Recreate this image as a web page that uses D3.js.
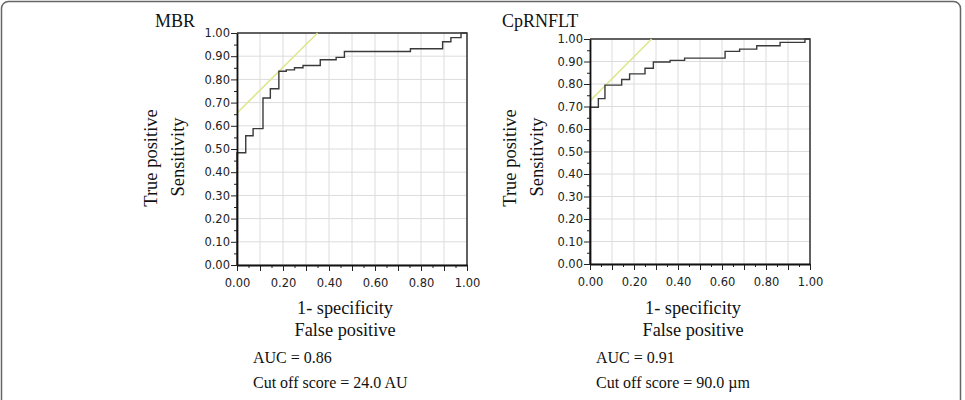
<!DOCTYPE html>
<html>
<head>
<meta charset="utf-8">
<script src="https://cdn.jsdelivr.net/npm/d3@7"></script>
<style>
  body { margin: 0; background: #fff; }
  svg { display: block; }
</style>
</head>
<body>
<svg id="chart" width="965" height="400"></svg>
<script>
// ROC step curves: [1-specificity, sensitivity]
const mbrRoc = [
  [0, 0], [0, 0.484], [0.038, 0.484], [0.038, 0.557], [0.07, 0.557], [0.07, 0.588],
  [0.113, 0.588], [0.113, 0.72], [0.145, 0.72], [0.145, 0.76], [0.182, 0.76],
  [0.182, 0.835], [0.214, 0.835], [0.214, 0.841], [0.25, 0.841], [0.25, 0.85],
  [0.287, 0.85], [0.287, 0.86], [0.362, 0.86], [0.362, 0.885], [0.431, 0.885],
  [0.431, 0.895], [0.467, 0.895], [0.467, 0.92], [0.754, 0.92], [0.754, 0.932],
  [0.894, 0.932], [0.894, 0.962], [0.93, 0.962], [0.93, 0.98], [0.974, 0.98],
  [0.974, 1.0], [1.0, 1.0]
];
const rnfltRoc = [
  [0, 0], [0, 0.697], [0.038, 0.697], [0.038, 0.735], [0.068, 0.735], [0.068, 0.795],
  [0.144, 0.795], [0.144, 0.82], [0.18, 0.82], [0.18, 0.845], [0.25, 0.845],
  [0.25, 0.87], [0.288, 0.87], [0.288, 0.898], [0.364, 0.898], [0.364, 0.905],
  [0.43, 0.905], [0.43, 0.915], [0.614, 0.915], [0.614, 0.945], [0.68, 0.945],
  [0.68, 0.955], [0.758, 0.955], [0.758, 0.97], [0.864, 0.97], [0.864, 0.985],
  [0.977, 0.985], [0.977, 1.0], [1.0, 1.0]
];
// tangent (cut-off) lines: [x, y] endpoints
const mbrTangent = [[0, 0.655], [0.35, 1.0]];
const rnfltTangent = [[0, 0.725], [0.28, 1.0]];

const titles = ["MBR", "CpRNFLT"];
const aucTexts = ["AUC = 0.86", "AUC = 0.91"];
const cutTexts = ["Cut off score = 24.0 AU", "Cut off score = 90.0 \u00b5m"];
const xTickValues = [0, 0.2, 0.4, 0.6, 0.8, 1.0];
const yTickValues = [0, 0.1, 0.2, 0.3, 0.4, 0.5, 0.6, 0.7, 0.8, 0.9, 1.0];

const svg = d3.select("#chart");

// outer rounded frame
svg.append("rect")
  .attr("x", 1.5).attr("y", 1.5)
  .attr("width", 959).attr("height", 420)
  .attr("rx", 7)
  .attr("fill", "none")
  .attr("stroke", "#666")
  .attr("stroke-width", 1.5);

const panels = [
  { roc: mbrRoc, tan: mbrTangent, x0: 237, x1: 467, y0: 265, y1: 33,
    titleX: 155, ylabX: 157, ylab2X: 184, textX: 253 },
  { roc: rnfltRoc, tan: rnfltTangent, x0: 590, x1: 810, y0: 264, y1: 39,
    titleX: 502, ylabX: 516, ylab2X: 543, textX: 596 }
];

const serif = "'Liberation Serif', 'Times New Roman', serif";

panels.forEach((p, i) => {
  const x = d3.scaleLinear().domain([0, 1]).range([p.x0, p.x1]);
  const y = d3.scaleLinear().domain([0, 1]).range([p.y0, p.y1]);
  const g = svg.append("g");

  // grid
  const grid = d3.range(0, 1.0001, 0.1);
  g.append("g").selectAll("line.v").data(grid).join("line")
    .attr("x1", d => x(d)).attr("x2", d => x(d))
    .attr("y1", y(0)).attr("y2", y(1))
    .attr("stroke", "#dcdcdc").attr("stroke-width", 1);
  g.append("g").selectAll("line.h").data(grid).join("line")
    .attr("x1", x(0)).attr("x2", x(1))
    .attr("y1", d => y(d)).attr("y2", d => y(d))
    .attr("stroke", "#dcdcdc").attr("stroke-width", 1);

  // top / right border
  g.append("path")
    .attr("d", `M${x(0)},${y(1)}H${x(1)}V${y(0)}`)
    .attr("fill", "none").attr("stroke", "#333").attr("stroke-width", 1.5);

  // tangent line
  g.append("line")
    .attr("x1", x(p.tan[0][0])).attr("y1", y(p.tan[0][1]))
    .attr("x2", x(p.tan[1][0])).attr("y2", y(p.tan[1][1]))
    .attr("stroke", "#dfe78c").attr("stroke-width", 1.5);

  // ROC curve
  g.append("path")
    .datum(p.roc)
    .attr("d", d3.line().x(d => x(d[0])).y(d => y(d[1])))
    .attr("fill", "none").attr("stroke", "#3a3a3a").attr("stroke-width", 1.4);

  // minor ticks
  g.append("g").attr("transform", `translate(0,${y(0)})`)
    .call(d3.axisBottom(x).tickValues(d3.range(0.05, 1, 0.1)).tickSize(3).tickFormat(""))
    .call(a => a.select(".domain").remove());
  g.append("g").attr("transform", `translate(${x(0)},0)`)
    .call(d3.axisLeft(y).tickValues(d3.range(0.05, 1, 0.1)).tickSize(3).tickFormat(""))
    .call(a => a.select(".domain").remove());
  g.append("g").attr("transform", `translate(0,${y(0)})`)
    .call(d3.axisBottom(x).tickValues(d3.range(0.1, 1, 0.2)).tickSize(6).tickFormat(""))
    .call(a => a.select(".domain").remove());

  // major axes
  const xAxis = g.append("g").attr("transform", `translate(0,${y(0)})`)
    .call(d3.axisBottom(x).tickValues(xTickValues).tickSize(6).tickSizeOuter(0)
      .tickFormat(d3.format(".2f")));
  const yAxis = g.append("g").attr("transform", `translate(${x(0)},0)`)
    .call(d3.axisLeft(y).tickValues(yTickValues).tickSize(6).tickSizeOuter(0)
      .tickFormat(d3.format(".2f")));
  [xAxis, yAxis].forEach(a => {
    a.select(".domain").attr("stroke", "#111").attr("stroke-width", 1.8);
    a.selectAll(".tick text")
      .attr("font-family", "'DejaVu Sans', Verdana, sans-serif")
      .attr("font-size", 11.5).attr("fill", "#222");
  });
  xAxis.selectAll(".tick text").attr("dy", "1.1em");
  yAxis.selectAll(".tick text").attr("x", -7);
  g.selectAll(".tick line").attr("stroke", "#222");

  // texts
  g.append("text").attr("x", p.titleX).attr("y", 27)
    .attr("font-family", serif).attr("font-size", 18).attr("fill", "#111")
    .text(titles[i]);

  const yc = 158;
  g.append("text")
    .attr("transform", `translate(${p.ylabX},${yc}) rotate(-90)`)
    .attr("text-anchor", "middle")
    .attr("font-family", serif).attr("font-size", 18.5).attr("fill", "#111")
    .text("True positive");
  g.append("text")
    .attr("transform", `translate(${p.ylab2X},${yc - 1}) rotate(-90)`)
    .attr("text-anchor", "middle")
    .attr("font-family", serif).attr("font-size", 18.5).attr("fill", "#111")
    .text("Sensitivity");

  const xc = (p.x0 + p.x1) / 2 - 7;
  g.append("text").attr("x", xc).attr("y", 314).attr("text-anchor", "middle")
    .attr("font-family", serif).attr("font-size", 18.3).attr("fill", "#111")
    .text("1- specificity");
  g.append("text").attr("x", xc).attr("y", 336).attr("text-anchor", "middle")
    .attr("font-family", serif).attr("font-size", 18.3).attr("fill", "#111")
    .text("False positive");

  g.append("text").attr("x", p.textX).attr("y", 363)
    .attr("font-family", serif).attr("font-size", 16).attr("fill", "#111")
    .text(aucTexts[i]);
  g.append("text").attr("x", p.textX).attr("y", 388)
    .attr("font-family", serif).attr("font-size", 16).attr("fill", "#111")
    .text(cutTexts[i]);
});
</script>
</body>
</html>
